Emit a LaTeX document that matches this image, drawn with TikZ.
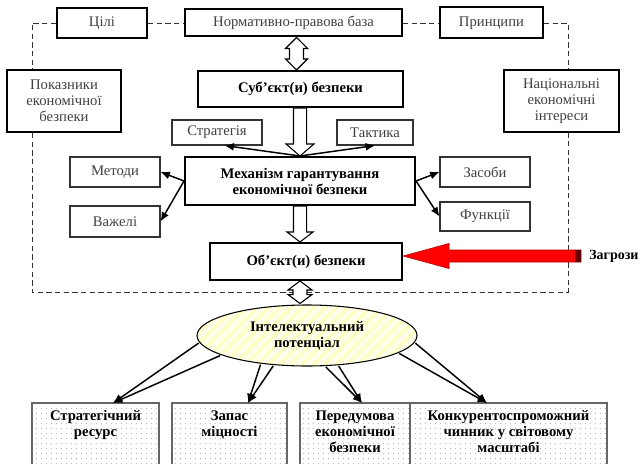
\documentclass[tikz,border=0pt]{standalone}
\usepackage{fontspec}
\setmainfont{Liberation Serif}
\usetikzlibrary{arrows.meta,calc,patterns,patterns.meta,shapes.geometric}

\begin{document}
\begin{tikzpicture}[x=0.75pt,y=-0.75pt]
	\tikzstyle{every node}=[inner sep=0pt, align=center, font=\fontsize{11}{12}\selectfont, text=black!75]
	\tikzstyle{thickbox}=[draw, rectangle, line width=1.5pt]
	\tikzstyle{thinbox}=[draw, rectangle, line width=0.8pt, draw=black!80]
	\tikzstyle{hdr}=[font=\fontsize{11}{12}\selectfont\bfseries, text=black]
	\tikzstyle{frame}=[line width=0.7pt, dash pattern=on 4pt off 2.5pt, black!80]
	\tikzstyle{arr}=[line width=1.1pt, -{Latex[length=7pt,width=6pt]}]
	\tikzstyle{hollow}=[draw, line width=0.8pt, fill=white]
	\tikzstyle{base}=[draw=black!60, line width=0.8pt, pattern={Dots[distance=4pt,radius=0.5pt]}, pattern color=black!30, minimum height=50.25pt]
	\useasboundingbox (0,0) rectangle (641,463);
	\clip (0,0) rectangle (641,463);
	\node[thickbox, minimum width=67.5pt, minimum height=22.5pt] (goals) at (102,23) {Цілі};
	\node[thickbox, minimum width=162.75pt, minimum height=20.25pt] (norm) at (293.5,23) {Нормативно-правова база};
	\node[thickbox, minimum width=77.25pt, minimum height=23.25pt] (princ) at (491.5,23) {Принципи};
	\node[thickbox, minimum width=85.5pt, minimum height=46.5pt] (ind) at (64,101) {Показники\\економічної\\безпеки};
	\node[thickbox, minimum width=86.25pt, minimum height=46.5pt] (nat) at (561.5,101) {Національні\\економічні\\інтереси};
	\node[thickbox, hdr, minimum width=153.75pt, minimum height=27pt] (subj) at (300.5,89) {Суб’єкт(и) безпеки};
	\node[thinbox, minimum width=67.5pt, minimum height=18.75pt] (strat) at (217,132.5) {Стратегія};
	\node[thinbox, minimum width=57pt, minimum height=18.75pt] (tact) at (375,132.5) {Тактика};
	\node[thickbox, hdr, minimum width=172.5pt, minimum height=36pt] (mech) at (300,181) {Механізм гарантування\\економічної безпеки};
	\node[thinbox, minimum width=67.5pt, minimum height=22.5pt] (meth) at (115,172) {Методи};
	\node[thinbox, minimum width=67.5pt, minimum height=23.25pt] (lev) at (115,221.5) {Важелі};
	\node[thinbox, minimum width=67.5pt, minimum height=22.5pt] (means) at (485,172) {Засоби};
	\node[thinbox, minimum width=67.5pt, minimum height=21.75pt] (func) at (485,216.5) {Функції};
	\node[thickbox, hdr, minimum width=144pt, minimum height=27.75pt] (obj) at (306,261.5) {Об’єкт(и) безпеки};
	\node[hdr, font=\fontsize{10.5}{12}\selectfont\bfseries, anchor=west] (zag) at (589,256) {Загрози};
	\node[ellipse, draw, line width=0.8pt, hdr, preaction={fill=yellow!8}, pattern={Lines[angle=45,distance=6pt,line width=2.2pt]}, pattern color=yellow!25, minimum width=165pt, minimum height=45.75pt] (ell) at (307,335.5) {Інтелектуальний\\потенціал};
	\node[base, minimum width=95.25pt] (b1) at (95.5,436.5) {};
	\node[base, minimum width=86.25pt] (b2) at (229.5,436.5) {};
	\node[base, minimum width=82.5pt] (b3) at (355,436.5) {};
	\node[base, minimum width=147.75pt] (b4) at (508.5,436.5) {};
	\node[hdr, anchor=north] (t1) at ($(b1.north)+(0,8)$) {Стратегічний\\ресурс};
	\node[hdr, anchor=north] (t2) at ($(b2.north)+(0,8)$) {Запас\\міцності};
	\node[hdr, anchor=north] (t3) at ($(b3.north)+(0,8)$) {Передумова\\економічної\\безпеки};
	\node[hdr, anchor=north] (t4) at ($(b4.north)+(0,8)$) {Конкурентоспроможний\\чинник у світовому\\масштабі};
	\coordinate (fl) at (32,292);
	\coordinate (fr) at (568,292);
	\coordinate (e1) at (113,403);
	\coordinate (e2) at (248,403);
	\coordinate (e3) at (362,403);
	\coordinate (e4) at (487,403);
	\draw[frame] (goals.west) -| (fl |- ind.north);
	\draw[frame] (fl |- ind.south) -- (fl) -- (fr) -- (fr |- nat.south);
	\draw[frame] (princ.east) -| (fr |- nat.north);
	\draw[frame] (goals.east) -- (norm.west);
	\draw[frame] (norm.east) -- (princ.west);
	\draw[hollow] let \p1=(norm.south), \p2=(subj.north) in
		(\x2-3pt,\y1) -- (\x2+5.25pt,\y1-8.25pt) -- (\x2+2.25pt,\y1-8.25pt) -- (\x2+2.25pt,\y2+8.25pt) -- (\x2+5.25pt,\y2+8.25pt) -- (\x2-3pt,\y2)
		-- (\x2-11.25pt,\y2+8.25pt) -- (\x2-8.25pt,\y2+8.25pt) -- (\x2-8.25pt,\y1-8.25pt) -- (\x2-11.25pt,\y1-8.25pt) -- cycle;
	\draw[hollow] let \p1=(subj.south), \p2=(mech.north) in
		(\x2-4.9pt,\y1) -- (\x2+4.9pt,\y1) -- (\x2+4.9pt,\y2+9pt) -- (\x2+10.5pt,\y2+9pt) -- (\x2,\y2) -- (\x2-10.5pt,\y2+9pt) -- (\x2-4.9pt,\y2+9pt) -- cycle;
	\draw[hollow] let \p1=(mech.south), \p2=(obj.north) in
		(\x1-4.9pt,\y1) -- (\x1+4.9pt,\y1) -- (\x1+4.9pt,\y2+7.5pt) -- (\x1+9.75pt,\y2+7.5pt) -- (\x1,\y2) -- (\x1-9.75pt,\y2+7.5pt) -- (\x1-4.9pt,\y2+7.5pt) -- cycle;
	\draw[hollow] let \p1=(obj.south), \p2=(ell.north) in
		(\x1-4.5pt,\y1) -- (\x1+4.5pt,\y1-6.75pt) -- (\x1+0.75pt,\y1-6.75pt) -- (\x1+0.75pt,\y2+6.75pt) -- (\x1+4.5pt,\y2+6.75pt) -- (\x1-4.5pt,\y2)
		-- (\x1-13.5pt,\y2+6.75pt) -- (\x1-9.75pt,\y2+6.75pt) -- (\x1-9.75pt,\y1-6.75pt) -- (\x1-13.5pt,\y1-6.75pt) -- cycle;
	\draw[arr] (mech.north) -- (strat.-60);
	\draw[arr] (mech.north) -- (tact.south);
	\draw[arr] (mech.west) -- (meth.east);
	\draw[arr] (mech.west) -- (lev.east);
	\draw[arr] (mech.east) -- (means.west);
	\draw[arr] (mech.east) -- (func.west);
	\draw[draw=red!70!black, fill=red, line width=0.4pt] let \p1=(zag.west), \p2=(obj.east) in
		(\x2,\y1) -- (\x2+34.5pt,\y1+9.4pt) -- (\x2+34.5pt,\y1+4.5pt) -- (\x1-6pt,\y1+4.5pt) -- (\x1-6pt,\y1-4.5pt) -- (\x2+34.5pt,\y1-4.5pt) -- (\x2+34.5pt,\y1-9.4pt) -- cycle;
	\fill[red!40!black] let \p1=(zag.west) in (\x1-10.5pt,\y1+4.5pt) rectangle (\x1-6pt,\y1-4.5pt);
	\draw[arr] (ell.184) -- (e1);
	\draw[arr] (ell.193) -- (e1);
	\draw[arr] (ell.212) -- (e2);
	\draw[arr] (ell.222) -- (e2);
	\draw[arr] (ell.301) -- (e3);
	\draw[arr] (ell.316) -- (e3);
	\draw[arr] (ell.356) -- (e4);
	\draw[arr] (ell.349) -- (e4);
\end{tikzpicture}
\end{document}
